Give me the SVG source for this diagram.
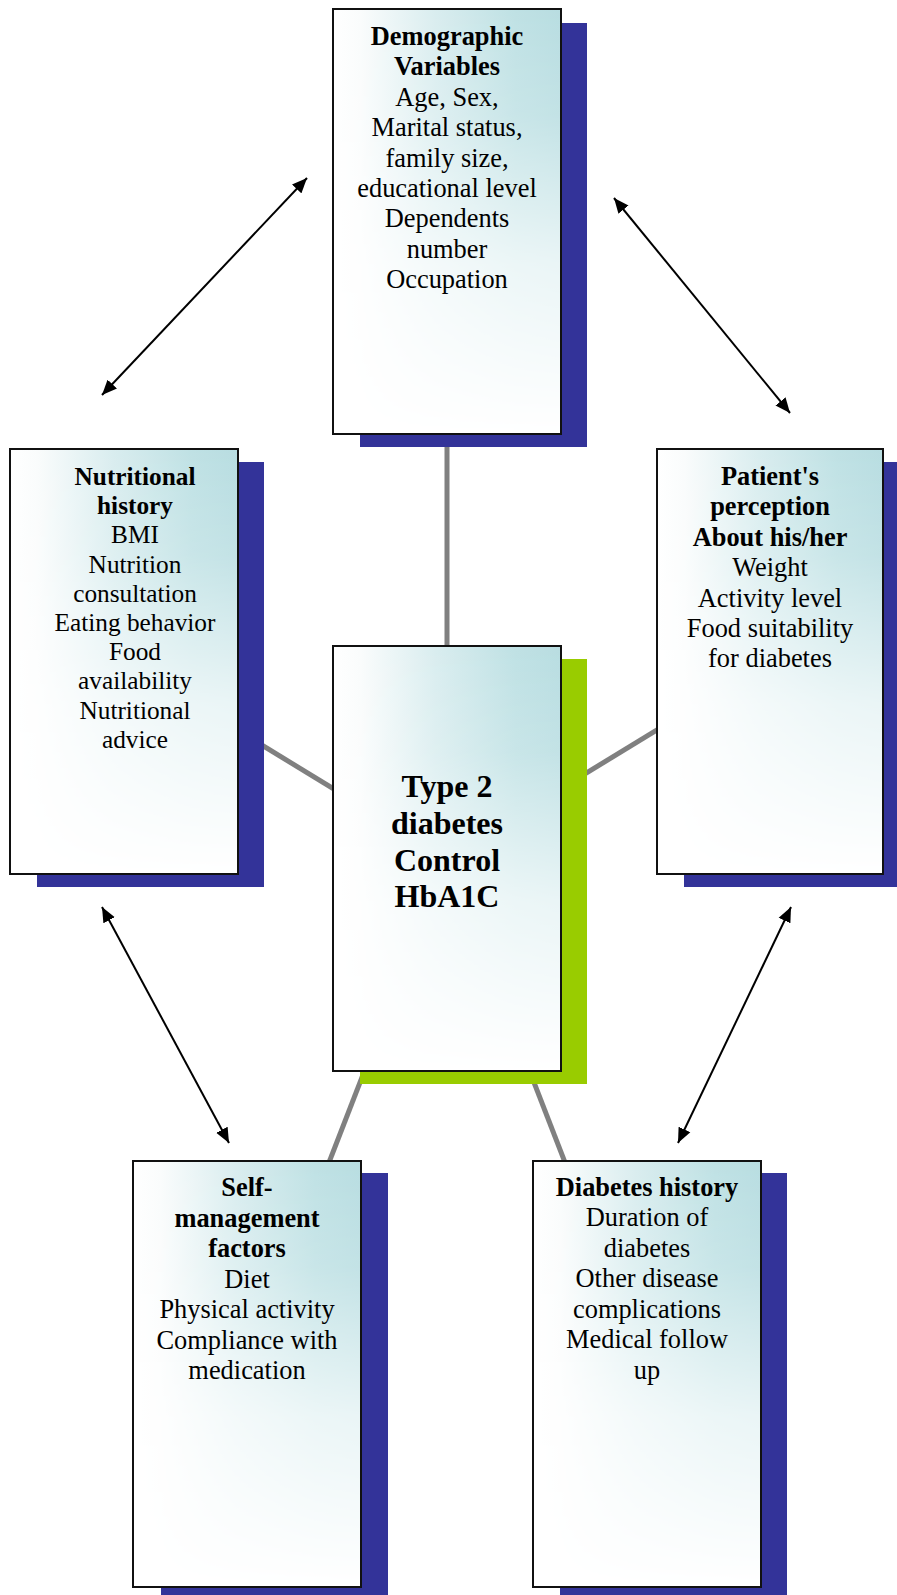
<svg xmlns="http://www.w3.org/2000/svg" width="897" height="1595" viewBox="0 0 897 1595">
<style>
.bg{fill:#fff}
.tint{fill:url(#gh);mask:url(#m)}
.frame{stroke:#111;stroke-width:2;fill:none}
.shadow{fill:#333399}
.t{font-family:"Liberation Serif","Times New Roman",serif;font-size:26.4px;fill:#000;text-anchor:middle}
.b{font-weight:bold}
.link{stroke:#808080;stroke-width:5;fill:none}
.arr{stroke:#000;stroke-width:2;fill:none;marker-start:url(#ah);marker-end:url(#ah)}
</style>
<defs>
<linearGradient id="gh" x1="0" y1="0" x2="1" y2="0">
<stop offset="0" stop-color="#FFFFFF"/>
<stop offset="0.12" stop-color="#FAFCFC"/>
<stop offset="0.45" stop-color="#D9EDEF"/>
<stop offset="0.8" stop-color="#BFE1E4"/>
<stop offset="1" stop-color="#B8DDE1"/>
</linearGradient>
<linearGradient id="gv" x1="0" y1="0" x2="0" y2="1">
<stop offset="0" stop-color="#fff"/>
<stop offset="0.25" stop-color="#fff" stop-opacity="0.85"/>
<stop offset="0.6" stop-color="#fff" stop-opacity="0.3"/>
<stop offset="1" stop-color="#fff" stop-opacity="0"/>
</linearGradient>
<mask id="m" maskContentUnits="objectBoundingBox">
<rect width="1" height="1" fill="url(#gv)"/>
</mask>
<marker id="ah" markerUnits="userSpaceOnUse" markerWidth="16" markerHeight="14" refX="15" refY="7" orient="auto-start-reverse">
<path d="M0,0.5 L15,7 L0,13.5 z" fill="#000"/>
</marker>
</defs>
<rect width="897" height="1595" fill="#fff"/>
<g id="connectors">
<line class="link" x1="447" y1="221" x2="447" y2="858"/>
<line class="link" x1="124" y1="661" x2="447" y2="858"/>
<line class="link" x1="770" y1="661" x2="447" y2="858"/>
<line class="link" x1="247" y1="1374" x2="447" y2="858"/>
<line class="link" x1="647" y1="1374" x2="447" y2="858"/>
<line class="arr" x1="102" y1="395" x2="307" y2="178"/>
<line class="arr" x1="614" y1="198" x2="790" y2="413"/>
<line class="arr" x1="102" y1="907" x2="229" y2="1143"/>
<line class="arr" x1="791" y1="907" x2="678" y2="1143"/>
</g>
<g id="demographic">
<rect class="shadow" x="360" y="23" width="227" height="424"/>
<rect class="bg" x="333" y="9" width="228" height="425"/>
<rect class="tint" x="333" y="9" width="228" height="425"/>
<rect class="frame" x="333" y="9" width="228" height="425"/>
<text class="t"><tspan class="b" x="447" y="45">Demographic</tspan><tspan class="b" x="447" y="75.4">Variables</tspan><tspan x="447" y="105.8">Age, Sex,</tspan><tspan x="447" y="136.2">Marital status,</tspan><tspan x="447" y="166.6">family size,</tspan><tspan x="447" y="197">educational level</tspan><tspan x="447" y="227.4">Dependents</tspan><tspan x="447" y="257.8">number</tspan><tspan x="447" y="288.2">Occupation</tspan></text>
</g>
<g id="nutritional">
<rect class="shadow" x="37" y="462" width="227" height="425"/>
<rect class="bg" x="10" y="449" width="228" height="425"/>
<rect class="tint" x="10" y="449" width="228" height="425"/>
<rect class="frame" x="10" y="449" width="228" height="425"/>
<text class="t" style="font-size:25.3px"><tspan class="b" x="135" y="485">Nutritional</tspan><tspan class="b" x="135" y="514.2">history</tspan><tspan x="135" y="543.4">BMI</tspan><tspan x="135" y="572.6">Nutrition</tspan><tspan x="135" y="601.8">consultation</tspan><tspan x="135" y="631">Eating behavior</tspan><tspan x="135" y="660.2">Food</tspan><tspan x="135" y="689.4">availability</tspan><tspan x="135" y="718.6">Nutritional</tspan><tspan x="135" y="747.8">advice</tspan></text>
</g>
<g id="patient">
<rect class="shadow" x="684" y="462" width="213" height="425"/>
<rect class="bg" x="657" y="449" width="226" height="425"/>
<rect class="tint" x="657" y="449" width="226" height="425"/>
<rect class="frame" x="657" y="449" width="226" height="425"/>
<text class="t"><tspan class="b" x="770" y="485">Patient's</tspan><tspan class="b" x="770" y="515.4">perception</tspan><tspan class="b" x="770" y="545.8">About his/her</tspan><tspan x="770" y="576.2">Weight</tspan><tspan x="770" y="606.6">Activity level</tspan><tspan x="770" y="637">Food suitability</tspan><tspan x="770" y="667.4">for diabetes</tspan></text>
</g>
<g id="center">
<rect x="360" y="659" width="227" height="425" fill="#99CC00"/>
<rect class="bg" x="333" y="646" width="228" height="425"/>
<rect class="tint" x="333" y="646" width="228" height="425"/>
<rect class="frame" x="333" y="646" width="228" height="425"/>
<text class="t b" style="font-size:32px"><tspan x="447" y="797">Type 2</tspan><tspan x="447" y="834">diabetes</tspan><tspan x="447" y="870.5">Control</tspan><tspan x="447" y="907">HbA1C</tspan></text>
</g>
<g id="selfmanagement">
<rect class="shadow" x="161" y="1173" width="227" height="425"/>
<rect class="bg" x="133" y="1161" width="228" height="426"/>
<rect class="tint" x="133" y="1161" width="228" height="426"/>
<rect class="frame" x="133" y="1161" width="228" height="426"/>
<text class="t"><tspan class="b" x="247" y="1196">Self-</tspan><tspan class="b" x="247" y="1226.5">management</tspan><tspan class="b" x="247" y="1257">factors</tspan><tspan x="247" y="1287.5">Diet</tspan><tspan x="247" y="1318">Physical activity</tspan><tspan x="247" y="1348.5">Compliance with</tspan><tspan x="247" y="1379">medication</tspan></text>
</g>
<g id="diabeteshistory">
<rect class="shadow" x="560" y="1173" width="227" height="425"/>
<rect class="bg" x="533" y="1161" width="228" height="426"/>
<rect class="tint" x="533" y="1161" width="228" height="426"/>
<rect class="frame" x="533" y="1161" width="228" height="426"/>
<text class="t"><tspan class="b" x="647" y="1195.5">Diabetes history</tspan><tspan x="647" y="1226">Duration of</tspan><tspan x="647" y="1256.5">diabetes</tspan><tspan x="647" y="1287">Other disease</tspan><tspan x="647" y="1317.5">complications</tspan><tspan x="647" y="1348">Medical follow</tspan><tspan x="647" y="1378.5">up</tspan></text>
</g>
</svg>
